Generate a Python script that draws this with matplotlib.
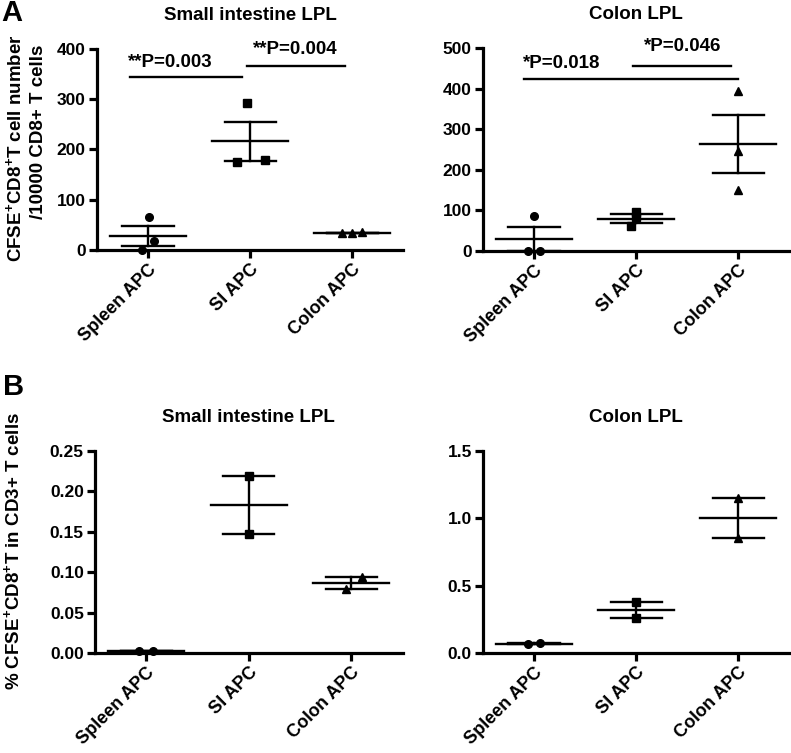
import numpy as np
import matplotlib
matplotlib.use("Agg")
import matplotlib.pyplot as plt

plt.rcParams['font.family'] = ['Liberation Sans', 'DejaVu Sans']
plt.rcParams['font.weight'] = 'bold'
plt.rcParams['mathtext.fontset'] = 'custom'
plt.rcParams['mathtext.rm'] = 'Liberation Sans:bold'
plt.rcParams['mathtext.bf'] = 'Liberation Sans:bold'
plt.rcParams['mathtext.it'] = 'Liberation Sans:bold'

groups = ['Spleen APC', 'SI APC', 'Colon APC']
markers = ['o', 's', '^']

# panel A: cell number / 10000 CD8+ T cells
a_si = [[65, 17, 0], [293, 175, 180], [33, 33, 35]]
a_colon = [[87, 0, 0], [95, 83, 60], [395, 245, 150]]
# jitter offsets of the points within a group
a_si_dx = [[0.01, 0.06, -0.06], [-0.03, -0.13, 0.15], [-0.1, 0.0, 0.1]]
a_colon_dx = [[0.0, -0.06, 0.06], [0.0, 0.0, -0.05], [0.0, 0.0, 0.0]]

# panel B: % of CD3+ T cells
b_si = [[0.003, 0.003], [0.219, 0.147], [0.094, 0.079]]
b_colon = [[0.065, 0.072], [0.38, 0.26], [1.15, 0.85]]
b_si_dx = [[-0.07, 0.07], [0.0, 0.0], [0.1, -0.05]]
b_colon_dx = [[-0.06, 0.06], [0.0, 0.0], [0.0, 0.0]]

# significance brackets: (x0, x1, y, text, tx, ty)
a_si_sig = [(-0.18, 0.92, 344, '**P=0.003', 0.22, 374),
            (0.97, 1.93, 366, '**P=0.004', 1.44, 398)]
a_colon_sig = [(-0.1, 2.0, 425, '*P=0.018', 0.27, 463),
               (0.97, 1.93, 457, '*P=0.046', 1.46, 503)]

fig = plt.figure(figsize=(7.91, 7.53), dpi=100)


def scatter_panel(ax, data, dx, title, ylim, yticks, yfmt):
    for i, vals in enumerate(data):
        vals = np.array(vals, dtype=float)
        m = vals.mean()
        sem = vals.std(ddof=1) / np.sqrt(len(vals))
        xs = i + np.array(dx[i])
        ax.plot(xs, vals, linestyle='none', marker=markers[i], color='black',
                markersize=5.5, clip_on=False, zorder=3)
        ax.plot([i - 0.37, i + 0.37], [m, m], color='black', lw=1.7)
        ax.plot([i, i], [m - sem, m + sem], color='black', lw=1.7)
        ax.plot([i - 0.25, i + 0.25], [m + sem, m + sem], color='black', lw=1.7)
        ax.plot([i - 0.25, i + 0.25], [m - sem, m - sem], color='black', lw=1.7)
    ax.set_xlim(-0.5, 2.5)
    ax.set_ylim(*ylim)
    ax.set_yticks(yticks)
    ax.set_yticklabels([yfmt.format(v) for v in yticks], fontsize=12.5, fontweight='bold')
    ax.set_xticks(range(len(groups)))
    ax.set_xticklabels(groups, rotation=45, ha='right', rotation_mode='anchor',
                       fontsize=13, fontweight='bold')
    for s in ['top', 'right']:
        ax.spines[s].set_visible(False)
    for s in ['left', 'bottom']:
        ax.spines[s].set_linewidth(2.3)
    ax.tick_params(axis='both', width=2.3, length=6, pad=2)
    ax.set_title(title, fontsize=13.5, fontweight='bold', y=1.165, pad=0, va='center')


def add_sig(ax, sig):
    for x0, x1, y, txt, tx, ty in sig:
        ax.plot([x0, x1], [y, y], color='black', lw=1.7, clip_on=False)
        ax.text(tx, ty, txt, ha='center', va='center', fontsize=13.5,
                fontweight='bold', clip_on=False)


ax1 = fig.add_axes([0.1226, 0.668, 0.387, 0.267])
scatter_panel(ax1, a_si, a_si_dx, 'Small intestine LPL', (0, 400), [0, 100, 200, 300, 400], '{:g}')
add_sig(ax1, a_si_sig)

ax2 = fig.add_axes([0.6106, 0.667, 0.387, 0.269])
scatter_panel(ax2, a_colon, a_colon_dx, 'Colon LPL', (0, 500), [0, 100, 200, 300, 400, 500], '{:g}')
add_sig(ax2, a_colon_sig)

ax3 = fig.add_axes([0.120, 0.1328, 0.389, 0.2686])
scatter_panel(ax3, b_si, b_si_dx, 'Small intestine LPL', (0, 0.25),
              [0, 0.05, 0.10, 0.15, 0.20, 0.25], '{:.2f}')

ax4 = fig.add_axes([0.6106, 0.1328, 0.387, 0.2686])
scatter_panel(ax4, b_colon, b_colon_dx, 'Colon LPL', (0, 1.5), [0, 0.5, 1.0, 1.5], '{:.1f}')

fig.text(15 / 791, 1 - 148 / 753, 'CFSE$^{+}$CD8$^{+}$T cell number',
         rotation=90, ha='center', va='center', fontsize=13.5, fontweight='bold')
fig.text(39 / 791, 1 - 132 / 753, '/10000 CD8+ T cells',
         rotation=90, ha='center', va='center', fontsize=13.5, fontweight='bold')
fig.text(13 / 791, 1 - 551 / 753, '% CFSE$^{+}$CD8$^{+}$T in CD3+ T cells',
         rotation=90, ha='center', va='center', fontsize=13.5, fontweight='bold')

fig.text(12 / 791, 1 - 13 / 753, 'A', ha='center', va='center', fontsize=21, fontweight='bold')
fig.text(14 / 791, 1 - 387 / 753, 'B', ha='center', va='center', fontsize=21, fontweight='bold')

fig.savefig('out.png', dpi=100)
